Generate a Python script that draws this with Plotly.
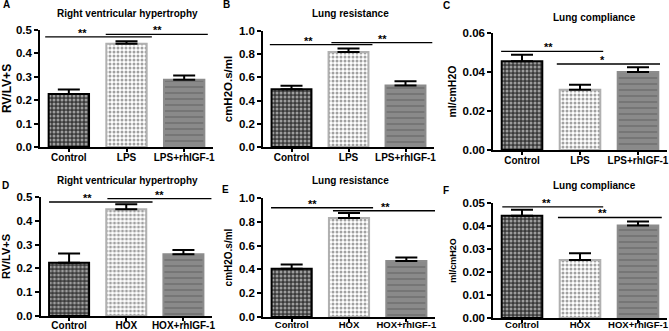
import plotly.graph_objects as go

# ---------------- data ----------------
groups_lps = ["Control", "LPS", "LPS+rhIGF-1"]
groups_hox = ["Control", "HOX", "HOX+rhIGF-1"]

rvh_lps = [0.226, 0.441, 0.287]
rvh_lps_err = [0.020, 0.011, 0.019]
res_lps = [0.497, 0.820, 0.531]
res_lps_err = [0.032, 0.029, 0.035]
comp_lps = [0.0455, 0.0309, 0.0400]
comp_lps_err = [0.0034, 0.0025, 0.0024]

rvh_hox = [0.224, 0.449, 0.259]
rvh_hox_err = [0.039, 0.021, 0.018]
res_hox = [0.406, 0.831, 0.470]
res_hox_err = [0.036, 0.042, 0.029]
comp_hox = [0.0445, 0.0252, 0.0402]
comp_hox_err = [0.0026, 0.0029, 0.0018]

titles = ["Right ventricular hypertrophy", "Lung resistance", "Lung compliance"] * 2
letters = ["A", "B", "C", "D", "E", "F"]
ylabels = ["RV/LV+S", "cmH2O.s/ml", "ml/cmH2O"] * 2
ymax = [0.5, 1.0, 0.06, 0.5, 1.0, 0.05]
ydtick = [0.1, 0.2, 0.02, 0.1, 0.2, 0.01]
yfmt = [".1f", ".1f", ".2f", ".1f", ".1f", ".2f"]

# significance brackets: (x_start, x_end, y, label, label_x)
sig_A = [(-0.41, 1.44, 0.471, "**", 0.245), (0.64, 2.41, 0.481, "**", 1.53)]
sig_B = [(-0.38, 1.42, 0.883, "**", 0.30), (0.70, 2.47, 0.900, "**", 1.59)]
sig_C = [(-0.36, 1.40, 0.0506, "**", 0.45), (0.60, 2.38, 0.0441, "*", 1.38)]
sig_D = [(-0.35, 1.46, 0.479, "**", 0.33), (0.67, 2.49, 0.493, "**", 1.58)]
sig_E = [(-0.36, 1.42, 0.918, "**", 0.37), (0.72, 2.50, 0.893, "**", 1.64)]
sig_F = [(-0.34, 1.40, 0.0483, "**", 0.43), (0.62, 2.41, 0.0437, "**", 1.38)]

# ---------------- layout helpers ----------------
W, H = 669, 331
FONT = "Liberation Sans, Arial, sans-serif"

# pixel boxes: (x_left, x_right, y_top, y_bottom)
boxes = [
    (40, 213, 30, 147), (263, 434, 31, 147), (493, 667, 33, 150),
    (40.5, 212, 197, 316), (263, 435, 198, 317), (493, 667, 203, 318),
]
title_pos = [(127, 13), (350, 13), (594, 17), (127, 180), (350, 180), (594, 185)]
letter_pos = [(6, 5), (226, 5), (446, 6), (5, 185), (225, 189), (446, 190)]
ylab_size = [12, 11.5, 10.5, 11, 10, 9]
xlab_size = [10, 10, 10, 10, 9.5, 9.5]
xlab_standoff = [-3, -3, -3, -4, -5, -6]

panels = [
    (groups_lps, rvh_lps, rvh_lps_err, sig_A),
    (groups_lps, res_lps, res_lps_err, sig_B),
    (groups_lps, comp_lps, comp_lps_err, sig_C),
    (groups_hox, rvh_hox, rvh_hox_err, sig_D),
    (groups_hox, res_hox, res_hox_err, sig_E),
    (groups_hox, comp_hox, comp_hox_err, sig_F),
]

fig = go.Figure()
shapes, annotations = [], []
layout = {}

for i, (cats, vals, errs, sigs) in enumerate(panels):
    n = i + 1
    xa = "x" if n == 1 else f"x{n}"
    ya = "y" if n == 1 else f"y{n}"
    fig.add_trace(go.Bar(
        x=cats, y=vals, width=0.7,
        xaxis=xa, yaxis=ya,
        marker=dict(
            color=["#3a3a3a", "#ffffff", "#8a8a8a"],
            line=dict(color=["#000000", "#b0b0b0", "#8c8c8c"], width=2),
            pattern=dict(
                shape=[".", ".", "-"],
                bgcolor=["#3a3a3a", "#ffffff", "#8a8a8a"],
                fgcolor=["#c8c8c8", "#b4b4b4", "#ffffff"],
                size=[4, 4, 6],
                solidity=[0.45, 0.45, 0.2],
                fillmode="overlay",
            ),
        ),
        error_y=dict(type="data", symmetric=False, array=errs,
                     arrayminus=[0, 0, 0], color="black", thickness=2, width=11),
        showlegend=False,
    ))
    x0, x1, yt, yb = boxes[i]
    xfont = dict(family=FONT, size=xlab_size[i], color="black", weight="bold")
    yfont = dict(family=FONT, size=11.5, color="black", weight="bold")
    layout["xaxis" if n == 1 else f"xaxis{n}"] = dict(
        domain=[x0 / W, x1 / W], anchor=ya, range=[-0.5, 2.5],
        showline=True, linecolor="black", linewidth=1.5,
        ticks="outside", ticklen=3, tickwidth=1.5, tickcolor="black",
        ticklabelstandoff=xlab_standoff[i],
        automargin=False,
        tickfont=xfont, showgrid=False, zeroline=False, fixedrange=True,
    )
    layout["yaxis" if n == 1 else f"yaxis{n}"] = dict(
        domain=[1 - yb / H, 1 - yt / H], anchor=xa, range=[0, ymax[i]],
        dtick=ydtick[i], tickformat=yfmt[i],
        showline=True, linecolor="black", linewidth=1.5,
        ticks="outside", ticklen=4, tickwidth=1.5, tickcolor="black",
        automargin=False,
        tickfont=yfont, showgrid=False, zeroline=False,
        title=dict(text=ylabels[i], standoff=4,
                   font=dict(family=FONT, size=ylab_size[i], color="black", weight="bold")),
    )
    for (sx0, sx1, sy, lab, lx) in sigs:
        shapes.append(dict(type="line", xref=xa, yref=ya, x0=sx0, x1=sx1, y0=sy, y1=sy,
                           line=dict(color="black", width=1.3)))
        annotations.append(dict(xref=xa, yref=ya, x=lx, y=sy, text=lab, showarrow=False,
                                yanchor="bottom", yshift=-4,
                                font=dict(family=FONT, size=11, color="black", weight="bold")))
    tx, ty = title_pos[i]
    annotations.append(dict(xref="paper", yref="paper", x=tx / W, y=1 - ty / H, text=titles[i],
                            showarrow=False, xanchor="center", yanchor="middle",
                            font=dict(family=FONT, size=10, color="black", weight="bold")))
    lxp, lyp = letter_pos[i]
    annotations.append(dict(xref="paper", yref="paper", x=lxp / W, y=1 - lyp / H, text=letters[i],
                            showarrow=False, xanchor="center", yanchor="middle",
                            font=dict(family=FONT, size=10, color="black", weight="bold")))

fig.update_layout(
    width=W, height=H,
    margin=dict(l=0, r=0, t=0, b=0, autoexpand=False),
    paper_bgcolor="white", plot_bgcolor="white",
    shapes=shapes, annotations=annotations,
    bargap=0.3,
    **layout,
)

fig.write_html(
    "out.html",
    config={"displayModeBar": False},
    post_script="document.body.style.margin='0px';document.body.style.overflow='hidden';",
)
